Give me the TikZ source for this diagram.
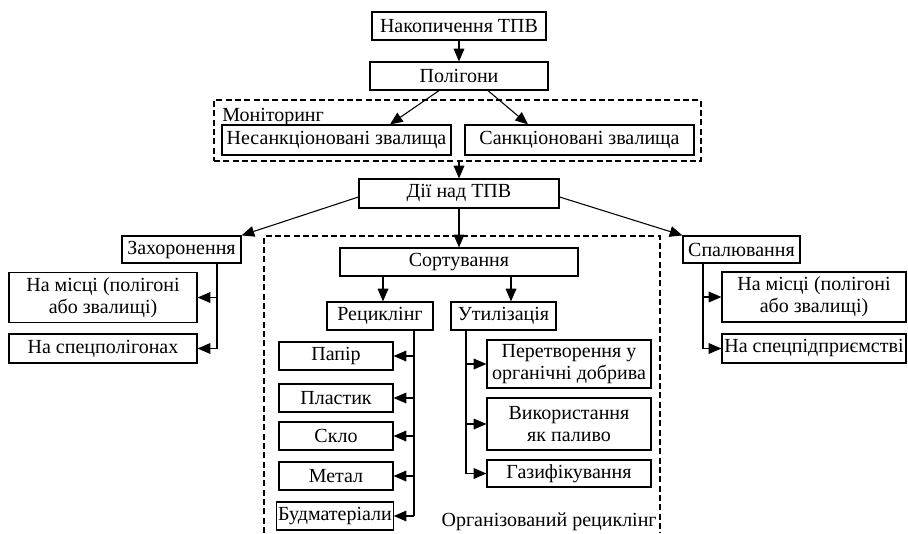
\documentclass[tikz,border=0pt]{standalone}
\usepackage{fontspec}
\setmainfont{Liberation Serif}
\usetikzlibrary{arrows.meta,calc}
\tikzset{
  box/.style={draw, line width=0.9pt, inner sep=1pt, align=center, font=\fontsize{15}{16.5}\selectfont},
  lbl/.style={inner sep=0pt, font=\fontsize{15}{16.5}\selectfont},
  arr/.style={line width=0.8pt, -{Triangle[length=9.5pt,width=8pt]}},
  ln/.style={line width=0.8pt},
  dbox/.style={line width=0.8pt, dash pattern=on 4.5pt off 2.5pt},
}
\begin{document}
\begin{tikzpicture}[x=0.75pt,y=-0.75pt]
\useasboundingbox (0,0) rectangle (908,533);
% top
\node[box, minimum width=130.5pt, minimum height=21pt] (nak) at (459,26) {Накопичення ТПВ};
\node[box, minimum width=133.5pt, minimum height=21pt] (pol) at (459,76) {Полігони};
% monitoring
\node[draw, dbox, minimum width=365.25pt, minimum height=45.75pt] (mon) at (457.5,130.5) {};
\node[lbl, anchor=base west] (monl) at (222,121) {Моніторинг};
\node[box, minimum width=171.75pt, minimum height=22.5pt] (nesank) at (336.5,140) {Несанкціоновані звалища};
\node[box, minimum width=171.75pt, minimum height=22.5pt] (sank) at (579.5,140) {Санкціоновані звалища};
% actions
\node[box, minimum width=150pt, minimum height=21.75pt] (dii) at (459,193.5) {Дії над ТПВ};
\node[box, minimum width=89.25pt, minimum height=20.25pt] (zah) at (181.5,249.5) {Захоронення};
\node[box, minimum width=87.75pt, minimum height=20.25pt] (spal) at (741.5,249.5) {Спалювання};
% left
\node[box, minimum width=141pt, minimum height=37.5pt] (lm1) at (103,297.5) {На місці (полігоні\\або звалищі)};
\node[box, minimum width=141pt, minimum height=21.75pt] (lm2) at (103,348.5) {На спецполігонах};
% right
\node[box, minimum width=138pt, minimum height=37.5pt] (rm1) at (814,297) {На місці (полігоні\\або звалищі)};
\node[box, minimum width=138pt, minimum height=21.75pt] (rm2) at (814,348.5) {На спецпідприємстві};
% organised recycling
\draw[dbox] (264,533) -- (264,236) -- (660,236) -- (660,533);
\node[lbl, anchor=base east] (orgl) at (657,526) {Організований рециклінг};
\node[box, minimum width=178.5pt, minimum height=21pt] (sort) at (459,262) {Сортування};
\node[box, minimum width=79.5pt, minimum height=21pt] (rec) at (380,316) {Рециклінг};
\node[box, minimum width=78.75pt, minimum height=21pt] (util) at (503.5,316) {Утилізація};
\node[box, minimum width=85.5pt, minimum height=21pt] (papir) at (336,356) {Папір};
\node[box, minimum width=85.5pt, minimum height=21pt] (plast) at (336,398) {Пластик};
\node[box, minimum width=85.5pt, minimum height=21pt] (sklo) at (336,436) {Скло};
\node[box, minimum width=85.5pt, minimum height=21pt] (metal) at (336,476) {Метал};
\node[box, minimum width=87pt, minimum height=21pt] (bud) at (335,516) {Будматеріали};
\node[box, minimum width=123pt, minimum height=36pt] (per) at (569,364) {Перетворення у\\органічні добрива};
\node[box, minimum width=123pt, minimum height=39pt] (vyk) at (569,424) {Використання\\як паливо};
\node[box, minimum width=123pt, minimum height=20.25pt] (gaz) at (569,473.5) {Газифікування};
% guide coordinates
\coordinate (xr) at (383,0);
\coordinate (xu) at (511,0);
\coordinate (rl) at (414,0);
\coordinate (ul) at (466,0);
\coordinate (zl) at (217,0);
\coordinate (sl) at (703,0);
% connectors
\draw[arr] (nak) -- (pol);
\draw[arr] ($(pol.south)+(-20,0)$) -- ($(nesank.north)+(53.5,0)$);
\draw[arr] ($(pol.south)+(29,0)$) -- ($(sank.north)+(-51.5,0)$);
\draw[arr] (mon.south -| dii) -- (dii.north);
\draw[arr] ($(dii.west)+(0,3.5)$) -- (zah.north east);
\draw[arr] ($(dii.east)+(0,3.5)$) -- (spal.north west);
\draw[arr] (dii.south) -- (sort.north);
\draw[arr] (sort.south -| xr) -- (rec.north -| xr);
\draw[arr] (sort.south -| xu) -- (util.north -| xu);
% recycling branch
\draw[ln] (rec.south -| rl) -- (bud.east -| rl);
\foreach \n in {papir,plast,sklo,metal,bud} \draw[arr] (\n.east -| rl) -- (\n.east);
% utilisation branch
\draw[ln] (util.south -| ul) -- (gaz.west -| ul);
\foreach \n in {per,vyk,gaz} \draw[arr] (\n.west -| ul) -- (\n.west);
% burial branch
\draw[ln] (zah.south -| zl) -- (lm2.east -| zl);
\foreach \n in {lm1,lm2} \draw[arr] (\n.east -| zl) -- (\n.east);
% incineration branch
\draw[ln] (spal.south -| sl) -- (rm2.west -| sl);
\foreach \n in {rm1,rm2} \draw[arr] (\n.west -| sl) -- (\n.west);
\end{tikzpicture}
\end{document}
